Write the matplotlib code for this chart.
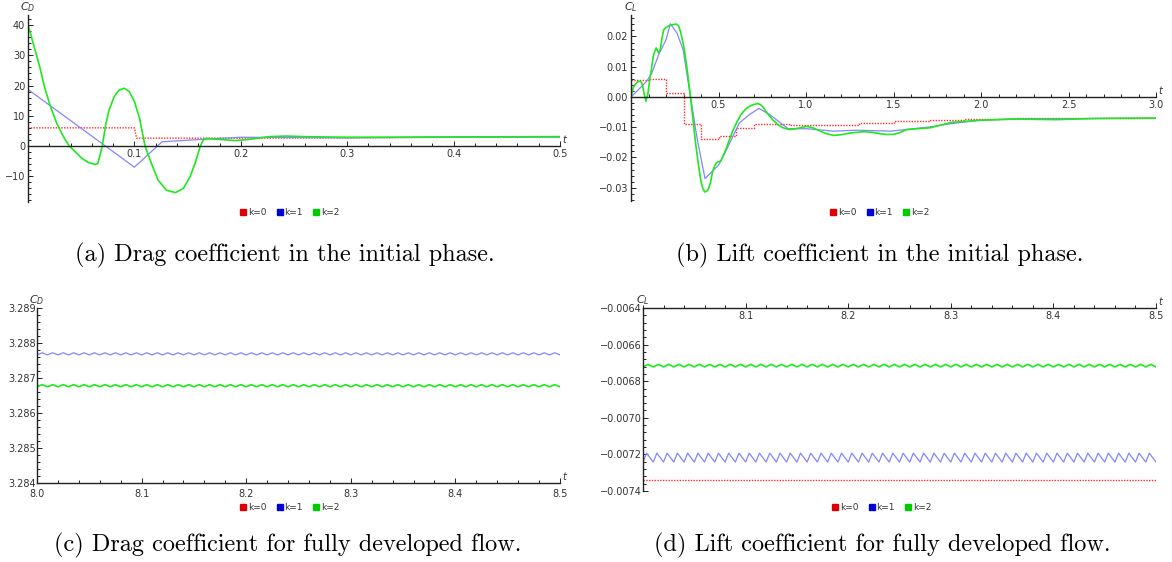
import matplotlib.pyplot as plt
import numpy as np
from matplotlib.ticker import MultipleLocator, FixedLocator, FuncFormatter
from matplotlib.lines import Line2D

# ---- data ----
# (a) drag, initial phase
a_red_t = [0.0, 0.1, 0.102, 0.2, 0.3, 0.4, 0.5]
a_red = [6.0, 6.0, 2.6, 2.6, 2.7, 2.9, 3.0]
a_blue_t = [0.0, 0.1, 0.126, 0.163, 0.2, 0.25, 0.3, 0.4, 0.5]
a_blue = [18.7, -7.0, 1.4, 2.2, 2.9, 2.8, 2.7, 2.9, 3.0]
a_green_t = [0.0, 0.0025, 0.0048, 0.008, 0.011, 0.0155, 0.0206, 0.027, 0.0333, 0.0387,
             0.0444, 0.0508, 0.057, 0.0635, 0.0657, 0.0673, 0.0698, 0.073, 0.0762,
             0.081, 0.0857, 0.0905, 0.0952, 0.1, 0.1048, 0.110, 0.1159, 0.1222,
             0.130, 0.1387, 0.146, 0.1524, 0.157, 0.162, 0.165, 0.168, 0.179, 0.195,
             0.208, 0.227, 0.243, 0.259, 0.3, 0.4, 0.5]
a_green = [40.0, 37.0, 34.0, 30.0, 26.2, 19.5, 13.6, 7.5, 3.1, 0.0,
           -1.9, -4.1, -5.5, -6.1, -5.7, -3.5, 0.0, 7.0, 11.9,
           16.3, 18.5, 19.1, 18.0, 14.7, 9.2, 0.0, -5.7, -11.2,
           -14.6, -15.4, -14.0, -10.1, -5.7, 0.0, 2.2, 2.5, 2.2, 1.8,
           2.2, 3.1, 3.3, 3.1, 2.9, 3.0, 3.1]

# (b) lift, initial phase (red is piecewise constant)
b_red_t = [0.0, 0.1, 0.2, 0.3, 0.4, 0.5, 0.6, 0.7, 0.9, 1.3, 1.5, 1.7, 1.9, 2.2, 3.0]
b_red = [0.0055, 0.006, 0.0012, -0.009, -0.014, -0.013, -0.0103, -0.009, -0.0093,
         -0.0085, -0.0081, -0.0077, -0.0072, -0.0071, -0.0071]
b_blue_t = [0.0, 0.042, 0.09, 0.119, 0.158, 0.2, 0.225, 0.263, 0.298, 0.34, 0.379,
            0.423, 0.465, 0.5, 0.542, 0.619, 0.677, 0.731, 0.792, 0.898, 1.004,
            1.158, 1.292, 1.485, 1.709, 1.832, 1.994, 2.185, 3.0]
b_blue = [0.0, 0.0024, 0.0052, 0.0079, 0.014, 0.0189, 0.0242, 0.0211, 0.0156, 0.0,
          -0.0141, -0.027, -0.0245, -0.0226, -0.0179, -0.0086, -0.0058, -0.0038,
          -0.0058, -0.0105, -0.0105, -0.0113, -0.011, -0.0113, -0.0099, -0.0088,
          -0.0077, -0.0073, -0.0070]
b_green_t = [0.0, 0.012, 0.023, 0.038, 0.052, 0.060, 0.067, 0.076, 0.085, 0.096, 0.11,
             0.129, 0.144, 0.158, 0.167, 0.177, 0.187, 0.20, 0.215, 0.237, 0.258,
             0.272, 0.283, 0.302, 0.321, 0.34, 0.355, 0.369, 0.384, 0.398, 0.41,
             0.421, 0.432, 0.442, 0.455, 0.465, 0.478, 0.488, 0.50, 0.513, 0.542,
             0.56, 0.581, 0.605, 0.629, 0.653, 0.677, 0.70, 0.725, 0.74, 0.754, 0.78,
             0.812, 0.84, 0.869, 0.908, 0.95, 1.004, 1.04, 1.081, 1.12, 1.158, 1.2,
             1.254, 1.331, 1.38, 1.427, 1.46, 1.50, 1.54, 1.575, 1.64, 1.709, 1.77,
             1.832, 1.994, 2.185, 2.43, 2.66, 3.0]
b_green = [0.0, 0.003, 0.0041, 0.005, 0.0052, 0.0048, 0.0035, 0.0008, -0.0014, 0.0008,
           0.0068, 0.014, 0.0162, 0.0145, 0.0156, 0.0195, 0.0222, 0.023, 0.0235,
           0.0239, 0.0241, 0.0235, 0.0216, 0.0167, 0.009, 0.0, -0.0078, -0.0152,
           -0.0218, -0.0273, -0.0302, -0.0314, -0.0312, -0.0305, -0.0282, -0.025,
           -0.0228, -0.0218, -0.0214, -0.0212, -0.0174, -0.0145, -0.0113, -0.0083,
           -0.0058, -0.0041, -0.0031, -0.0025, -0.0022, -0.0025, -0.0033, -0.0055,
           -0.0077, -0.0092, -0.0102, -0.0108, -0.0104, -0.0097, -0.0102, -0.0113,
           -0.0122, -0.0127, -0.0125, -0.0119, -0.0115, -0.0117, -0.0122, -0.0124,
           -0.0124, -0.0117, -0.0108, -0.0105, -0.0102, -0.0093, -0.0084, -0.0077,
           -0.0073, -0.0075, -0.0071, -0.0070]

# (c), (d) fully developed flow: small periodic wobble, low/high extremes
wobble_period = 0.01
c_blue_lo, c_blue_hi = 3.28766, 3.28772
c_green_lo, c_green_hi = 3.28675, 3.28681
d_red_level = -0.007342
d_blue_lo, d_blue_hi = -0.007242, -0.007193
d_green_lo, d_green_hi = -0.006722, -0.006708

legend_labels = ['k=0', 'k=1', 'k=2']
legend_colors = ['#dd0000', '#0000dd', '#00cc00']

RED = '#ff2a2a'
BLUE = '#8585ff'
GREEN = '#1ee81e'
TXT = '#333333'

plt.rcParams['font.family'] = 'DejaVu Sans'
plt.rcParams['font.size'] = 7

fig = plt.figure(figsize=(11.72, 5.62), dpi=100)


def minus(s):
    return s.replace('-', '\u2212')


def style(ax, xmin, xmax, ymin, ymax, xmin_step, ymin_step):
    ax.set_xlim(xmin, xmax)
    ax.set_ylim(ymin, ymax)
    ax.spines['top'].set_visible(False)
    ax.spines['right'].set_visible(False)
    for s in ['left', 'bottom']:
        ax.spines[s].set_linewidth(1.0)
        ax.spines[s].set_color('#222222')
    ax.xaxis.set_minor_locator(MultipleLocator(xmin_step))
    ax.yaxis.set_minor_locator(MultipleLocator(ymin_step))
    ax.tick_params(which='both', direction='in', colors='#222222', labelcolor=TXT,
                   labelsize=7, width=0.7)
    ax.tick_params(which='major', length=3.5, pad=2)
    ax.tick_params(which='minor', length=2)
    ax.patch.set_alpha(0)


def axis_names(ax, ylab, t_xy, t_coords):
    ax.annotate('t', xy=t_xy, xycoords=t_coords, xytext=(1.5, 0.5),
                textcoords='offset points', fontsize=7, fontstyle='italic',
                ha='left', va='bottom', color=TXT)
    ax.annotate(ylab, xy=(0, 1), xycoords='axes fraction', xytext=(0, 1),
                textcoords='offset points', fontsize=8, ha='center',
                va='bottom', color=TXT)


def add_legend(ax, cx, cy):
    handles = [Line2D([], [], marker='s', linestyle='none', color=c,
                      markeredgecolor=c, markersize=4) for c in legend_colors]
    leg = ax.legend(handles, legend_labels, loc='center', bbox_to_anchor=(cx, cy),
                    bbox_transform=fig.transFigure, ncol=3, frameon=False,
                    fontsize=6.5, handlelength=0.6, handletextpad=0.2,
                    columnspacing=1.2, borderpad=0)
    for t in leg.get_texts():
        t.set_color(TXT)


def caption(cx, cy, text):
    fig.text(cx, cy, text, family='cmr10', fontsize=17.5, ha='center', va='center')


def wobble_t(rise=0.5):
    starts = np.arange(8.0, 8.5 + 1e-9, wobble_period)
    t = []
    for s in starts:
        t.append(s)
        if s + rise * wobble_period <= 8.5 + 1e-9:
            t.append(s + rise * wobble_period)
    return np.array(t)


def wobble_y(n, lo, hi):
    return np.array([lo if i % 2 == 0 else hi for i in range(n)])


# ---------- (a) ----------
ax = fig.add_axes([28 / 1172, 1 - 202 / 562, 532 / 1172, 187 / 562])
ax.plot(a_red_t, a_red, color=RED, lw=1.0, ls=(0, (1, 1)))
ax.plot(a_blue_t, a_blue, color=BLUE, lw=0.9)
ax.plot(a_green_t, a_green, color=GREEN, lw=1.2)
style(ax, 0, 0.5, -18.5, 43.3, 0.02, 2)
ax.spines['left'].set_position(('data', 0))
ax.spines['bottom'].set_position(('data', 0))
ax.xaxis.set_major_locator(FixedLocator([0.1, 0.2, 0.3, 0.4, 0.5]))
ax.yaxis.set_major_locator(FixedLocator([-10, 0, 10, 20, 30, 40]))
ax.xaxis.set_major_formatter(FuncFormatter(lambda v, _: f'{v:.1f}'))
ax.yaxis.set_major_formatter(FuncFormatter(lambda v, _: minus(f'{v:.0f}')))
axis_names(ax, '$C_D$', (0.5, 0), 'data')
add_legend(ax, 290 / 1172, 1 - 213 / 562)
caption(285 / 1172, 1 - 255 / 562, '(a) Drag coefficient in the initial phase.')

# ---------- (b) ----------
ax = fig.add_axes([631 / 1172, 1 - 201 / 562, 525 / 1172, 186 / 562])
ax.step(b_red_t, b_red, where='post', color=RED, lw=1.0, ls=(0, (1, 1)))
ax.plot(b_blue_t, b_blue, color=BLUE, lw=0.9)
ax.plot(b_green_t, b_green, color=GREEN, lw=1.2)
style(ax, 0, 3.0, -0.0344, 0.0271, 0.1, 0.002)
ax.spines['left'].set_position(('data', 0))
ax.spines['bottom'].set_position(('data', 0))
ax.xaxis.set_major_locator(FixedLocator([0.5, 1.0, 1.5, 2.0, 2.5, 3.0]))
ax.yaxis.set_major_locator(FixedLocator([-0.03, -0.02, -0.01, 0.0, 0.01, 0.02]))
ax.xaxis.set_major_formatter(FuncFormatter(lambda v, _: f'{v:.1f}'))
ax.yaxis.set_major_formatter(FuncFormatter(
    lambda v, _: minus(f'{(0.0 if abs(v) < 1e-12 else v):.2f}')))
axis_names(ax, '$C_L$', (3.0, 0), 'data')
add_legend(ax, 880 / 1172, 1 - 213 / 562)
caption(880 / 1172, 1 - 255 / 562, '(b) Lift coefficient in the initial phase.')

# ---------- (c) ----------
ax = fig.add_axes([37 / 1172, 1 - 483 / 562, 523 / 1172, 175 / 562])
tw = wobble_t(0.5)
ax.plot(tw, wobble_y(len(tw), c_blue_lo, c_blue_hi), color=BLUE, lw=0.9)
ax.plot(tw, wobble_y(len(tw), c_green_lo, c_green_hi), color=GREEN, lw=1.2)
style(ax, 8.0, 8.5, 3.284, 3.289, 0.02, 0.0002)
ax.xaxis.set_major_locator(FixedLocator([8.0, 8.1, 8.2, 8.3, 8.4, 8.5]))
ax.yaxis.set_major_locator(FixedLocator([3.284, 3.285, 3.286, 3.287, 3.288, 3.289]))
ax.xaxis.set_major_formatter(FuncFormatter(lambda v, _: f'{v:.1f}'))
ax.yaxis.set_major_formatter(FuncFormatter(lambda v, _: f'{v:.3f}'))
ax.tick_params(axis='y', pad=1)
ax.tick_params(axis='x', pad=4.5)
axis_names(ax, '$C_D$', (1, 0), 'axes fraction')
add_legend(ax, 290 / 1172, 1 - 508 / 562)
caption(288 / 1172, 1 - 545 / 562, '(c) Drag coefficient for fully developed flow.')

# ---------- (d) ----------
ax = fig.add_axes([643 / 1172, 1 - 491 / 562, 513 / 1172, 183 / 562])
ax.plot([8.0, 8.5], [d_red_level, d_red_level], color=RED, lw=1.0, ls=(0, (1, 1)))
tw_saw = wobble_t(0.35)
ax.plot(tw_saw, wobble_y(len(tw_saw), d_blue_lo, d_blue_hi), color=BLUE, lw=0.9)
ax.plot(tw, wobble_y(len(tw), d_green_lo, d_green_hi), color=GREEN, lw=1.2)
style(ax, 8.0, 8.5, -0.0074, -0.0064, 0.02, 0.00004)
ax.spines['bottom'].set_position(('axes', 1.0))
ax.xaxis.set_major_locator(FixedLocator([8.1, 8.2, 8.3, 8.4, 8.5]))
ax.yaxis.set_major_locator(FixedLocator([-0.0074, -0.0072, -0.0070, -0.0068,
                                         -0.0066, -0.0064]))
ax.xaxis.set_major_formatter(FuncFormatter(lambda v, _: f'{v:.1f}'))
ax.yaxis.set_major_formatter(FuncFormatter(lambda v, _: minus(f'{v:.4f}')))
ax.tick_params(axis='y', pad=1)
axis_names(ax, '$C_L$', (1, 1), 'axes fraction')
add_legend(ax, 882 / 1172, 1 - 508 / 562)
caption(882 / 1172, 1 - 545 / 562, '(d) Lift coefficient for fully developed flow.')

fig.savefig('out.png', dpi=100)
